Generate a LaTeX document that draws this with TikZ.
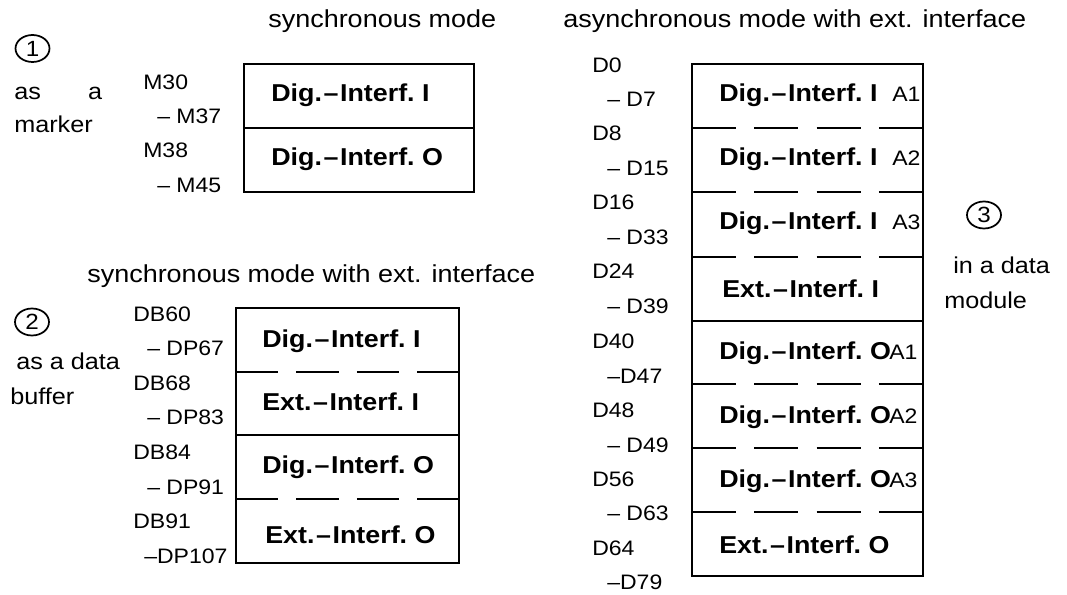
\documentclass[tikz,border=0pt]{standalone}
\usepackage{fontspec}
\setmainfont[FakeStretch=1.1]{Liberation Sans}
\usetikzlibrary{shapes.geometric}
\newcommand\lblfont{\fontsize{15.7}{18}\selectfont}
\newcommand\ttlfont{\fontsize{18.4}{21}\selectfont}
\newcommand\bxfont{\fontsize{18.3}{21}\selectfont\bfseries}
\newcommand\sdfont{\fontsize{17.2}{21}\selectfont}
\newcommand\DI{Dig.\kern1.2pt\textendash\kern1.2pt Interf.}
\newcommand\EI{Ext.\kern1.2pt\textendash\kern1.2pt Interf.}
\begin{document}
\begin{tikzpicture}[x=0.75pt,y=-0.75pt,
  lab/.style={anchor=base west,inner sep=0pt,font=\lblfont},
  ttl/.style={anchor=base west,inner sep=0pt,font=\ttlfont},
  bxt/.style={anchor=base west,inner sep=0pt,font=\bxfont},
  sd/.style={anchor=base west,inner sep=0pt,font=\sdfont},
  circ/.style={draw,line width=1.3pt,ellipse,inner sep=0pt,minimum width=25.5pt,minimum height=20.25pt,font=\fontsize{16.5}{18}\selectfont},
  solid line/.style={line width=1.6pt},
  dashA/.style={line width=1.2pt,dash pattern=on 31.6pt off 13.7pt},
  dashB/.style={line width=1.2pt,dash pattern=on 33pt off 13.7pt}]
\useasboundingbox (0,0) rectangle (1067,595);
% titles
\node[ttl] (t1) at (268,28) {synchronous mode};
\node[ttl] (t2) at (563,28) {asynchronous mode with ext. interface};
\node[ttl] (t3) at (87,282) {synchronous mode with ext. interface};
% circled numbers and side texts
\node[circ] (c1) at (32.5,48.5) {1};
\node[circ] (c2) at (32,322) {2};
\node[circ] (c3) at (984,215) {3};
\node[sd] (s1a) at (14,100) {\makebox[66pt][s]{as a}};
\node[sd] (s1b) at (14,133) {marker};
\node[sd] (s2a) at (16,369) {as a data};
\node[sd] (s2b) at (10,404) {buffer};
\node[sd] (s3a) at (953,274) {in a data};
\node[sd] (s3b) at (944,308) {module};
% box 1
\draw[solid line] (244,64) rectangle (474,192);
\draw[solid line] (244,128) -- (474,128);
\node[bxt] (b1a) at (271,102) {\DI\ I};
\node[bxt] (b1b) at (271,166) {\DI\ O};
\node[lab] (l1a) at (143,90) {M30};
\node[lab] (l1b) at (157,124) {\textendash\ M37};
\node[lab] (l1c) at (143,158) {M38};
\node[lab] (l1d) at (157,193) {\textendash\ M45};
% box 2
\draw[solid line] (236,308) rectangle (459,563);
\draw[solid line] (236,435) -- (459,435);
\draw[dashA] (236,372) -- (459,372);
\draw[dashA] (236,499) -- (459,499);
\node[bxt] (b2a) at (262,347) {\DI\ I};
\node[bxt] (b2b) at (262,410) {\EI\ I};
\node[bxt] (b2c) at (262,473) {\DI\ O};
\node[bxt] (b2d) at (265,543) {\EI\ O};
\node[lab] (l2a) at (133,321) {DB60};
\node[lab] (l2b) at (147,355) {\textendash\ DP67};
\node[lab] (l2c) at (133,390) {DB68};
\node[lab] (l2d) at (147,424) {\textendash\ DP83};
\node[lab] (l2e) at (133,459) {DB84};
\node[lab] (l2f) at (147,494) {\textendash\ DP91};
\node[lab] (l2g) at (133,528) {DB91};
\node[lab] (l2h) at (144,563) {\textendash DP107};
% box 3
\draw[solid line] (692,64) rectangle (923,576);
\draw[solid line] (692,321) -- (923,321);
\foreach \yy in {128,192,257,384,448,512}
  \draw[dashB] (692,\yy) -- (923,\yy);
\node[bxt] (b3a) at (719,102) {\DI\ I};
\node[bxt] (b3b) at (719,166) {\DI\ I};
\node[bxt] (b3c) at (719,230) {\DI\ I};
\node[bxt] (b3d) at (722,297) {\EI\ I};
\node[bxt] (b3e) at (719,359) {\DI\ O};
\node[bxt] (b3f) at (719,423) {\DI\ O};
\node[bxt] (b3g) at (719,487) {\DI\ O};
\node[bxt] (b3h) at (719,553) {\EI\ O};
\node[lab] (a1) at (892,102) {A1};
\node[lab] (a2) at (892,166) {A2};
\node[lab] (a3) at (892,230) {A3};
\node[lab] (a4) at (889,359) {A1};
\node[lab] (a5) at (889,423) {A2};
\node[lab] (a6) at (889,487) {A3};
\node[lab] (l3a) at (592,73) {D0};
\node[lab] (l3b) at (607,107) {\textendash\ D7};
\node[lab] (l3c) at (592,141) {D8};
\node[lab] (l3d) at (607,176) {\textendash\ D15};
\node[lab] (l3e) at (592,210) {D16};
\node[lab] (l3f) at (607,245) {\textendash\ D33};
\node[lab] (l3g) at (592,279) {D24};
\node[lab] (l3h) at (607,313) {\textendash\ D39};
\node[lab] (l3i) at (592,348) {D40};
\node[lab] (l3j) at (607,383) {\textendash D47};
\node[lab] (l3k) at (592,417) {D48};
\node[lab] (l3l) at (607,452) {\textendash\ D49};
\node[lab] (l3m) at (592,486) {D56};
\node[lab] (l3n) at (607,520) {\textendash\ D63};
\node[lab] (l3o) at (592,555) {D64};
\node[lab] (l3p) at (607,589) {\textendash D79};
\end{tikzpicture}
\end{document}
